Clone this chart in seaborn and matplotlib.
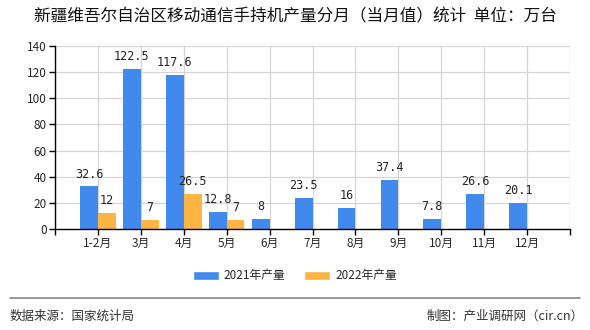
import numpy as np
import pandas as pd
import matplotlib
matplotlib.use("Agg")
import matplotlib.pyplot as plt
import seaborn as sns
from matplotlib.patches import Patch

categories = ["1-2月", "3月", "4月", "5月", "6月", "7月", "8月", "9月", "10月", "11月", "12月"]
series_2021 = [32.6, 122.5, 117.6, 12.8, 8, 23.5, 16, 37.4, 7.8, 26.6, 20.1]
series_2022 = [12, 7, 26.5, 7, None, None, None, None, None, None, None]
series_names = ["2021年产量", "2022年产量"]
colors = ["#4189EC", "#FCB443"]
yticks = [0, 20, 40, 60, 80, 100, 120, 140]

rows = []
for c, v in zip(categories, series_2021):
    rows.append({"月份": c, "系列": series_names[0], "值": v})
for c, v in zip(categories, series_2022):
    rows.append({"月份": c, "系列": series_names[1], "值": np.nan if v is None else v})
df = pd.DataFrame(rows)

sns.set_theme(style="white")
plt.rcParams['font.family'] = ['Noto Sans CJK SC', 'DejaVu Sans']

fig = plt.figure(figsize=(5.9, 3.3), dpi=100)
ax = fig.add_axes([55/590, 1-229/330, (570-55)/590, (229-46)/330])

sns.barplot(data=df, x="月份", y="值", hue="系列", order=categories,
            hue_order=series_names, palette=colors, width=0.83, saturation=1,
            ax=ax, legend=False, errorbar=None, linewidth=0, edgecolor="none")

for container, vals in zip(ax.containers, [series_2021, series_2022]):
    labels = []
    for v in vals:
        if v is None or (isinstance(v, float) and np.isnan(v)):
            labels.append("")
        else:
            labels.append(f"{v:g}")
    bars = list(container)
    labs = list(labels)
    if len(bars) != len(labs):
        labs = [l for l in labs if l != ""]
    for b, l in zip(bars, labs):
        h = b.get_height()
        if l == "" or np.isnan(h):
            continue
        ax.text(b.get_x() + b.get_width()/2, h + 4.5, l, ha="center", va="bottom",
                fontsize=8.5, family=["DejaVu Sans Mono"], color="#222222")

ax.set_xlim(-1, 11)
ax.set_ylim(0, 140)
ax.set_yticks(yticks)
ax.set_yticklabels([str(t) for t in yticks], fontsize=8.5)
ax.set_xticks(range(len(categories)))
ax.set_xticklabels(categories, fontsize=8.5)
ax.set_xticks([-1, 11], minor=True)
ax.set_xlabel("")
ax.set_ylabel("")
ax.grid(True, axis="both", which="both", color="#D5D5D5", linewidth=0.9)
ax.set_axisbelow(True)
for s in ["top", "right"]:
    ax.spines[s].set_visible(False)
ax.spines["left"].set_color("#000000")
ax.spines["bottom"].set_color("#000000")
ax.spines["left"].set_linewidth(1)
ax.spines["bottom"].set_linewidth(1)
ax.tick_params(axis="both", which="both", length=4, width=1, color="#000000",
               bottom=True, left=True, pad=2)

fig.text(0.5, 1-17/330, "新疆维吾尔自治区移动通信手持机产量分月（当月值）统计  单位：万台",
         ha="center", va="center", fontsize=12, color="#111111")

handles = [Patch(facecolor=colors[0]), Patch(facecolor=colors[1])]
fig.legend(handles, series_names, loc="center", bbox_to_anchor=(0.5, 1-276/330),
           ncol=2, frameon=False, fontsize=8.5, handlelength=2.2, handleheight=0.8,
           columnspacing=1.6, handletextpad=0.4)

fig.add_artist(plt.Line2D([10/590, 580/590], [1-298/330, 1-298/330],
                          color="#888888", linewidth=1.2))
fig.text(10/590, 1-316/330, "数据来源：国家统计局", ha="left", va="center",
         fontsize=9, color="#333333")
fig.text(584/590, 1-316/330, "制图：产业调研网（cir.cn）", ha="right", va="center",
         fontsize=9, color="#333333")

fig.savefig("out.png", dpi=100)
